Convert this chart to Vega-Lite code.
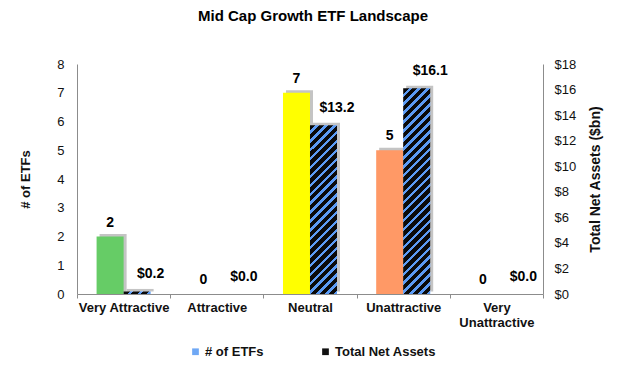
{
  "$schema": "https://vega.github.io/schema/vega-lite/v6.json",
  "width": 466,
  "height": 230,
  "autosize": "none",
  "padding": {"left": 77, "top": 64, "right": 87, "bottom": 74},
  "background": "white",
  "title": {"text": "Mid Cap Growth ETF Landscape", "fontSize": 15, "fontWeight": "bold", "font": "Liberation Sans", "anchor": "middle", "offset": 34, "dx": 3, "color": "#000"},
  "config": {
    "font": "Liberation Sans",
    "view": {"stroke": null},
    "axis": {"grid": false, "domainColor": "#8c8c8c", "labelColor": "#111", "titleColor": "#111", "labelFont": "Liberation Sans", "titleFont": "Liberation Sans"}
  },
  "data": {"values": [
    {"rating": "Very Attractive", "etfs": 2, "assets": 0.2},
    {"rating": "Attractive", "etfs": 0, "assets": 0.0},
    {"rating": "Neutral", "etfs": 7, "assets": 13.2},
    {"rating": "Unattractive", "etfs": 5, "assets": 16.1},
    {"rating": "Very Unattractive", "etfs": 0, "assets": 0.0}
  ]},
  "encoding": {
    "x": {"field": "rating", "type": "nominal",
      "sort": ["Very Attractive", "Attractive", "Neutral", "Unattractive", "Very Unattractive"],
      "scale": {"paddingInner": 0, "paddingOuter": 0},
      "axis": {"title": null, "labelAngle": 0, "tickBand": "extent", "ticks": true, "tickSize": 4, "tickColor": "#8c8c8c",
        "labelFontWeight": "bold", "labelFontSize": 13, "labelPadding": 3, "labelLineHeight": 15, "labelOverlap": false,
        "labelExpr": "datum.value == 'Very Unattractive' ? ['Very', 'Unattractive'] : datum.value"}}
  },
  "layer": [
    {
      "encoding": {"y": {"field": "etfs", "type": "quantitative", "scale": {"domain": [0, 8]},
        "axis": {"orient": "left", "values": [0, 1, 2, 3, 4, 5, 6, 7, 8], "ticks": false, "labelPadding": 13, "labelFontSize": 13,
          "title": "# of ETFs", "titleFontSize": 13, "titleFontWeight": "bold", "titlePadding": 24}}},
      "layer": [
        {"mark": {"type": "bar", "color": "#c4c4c4", "width": {"band": 0.29}, "xOffset": -10.5, "yOffset": -2.5}},
        {"mark": {"type": "bar", "width": {"band": 0.29}, "xOffset": -13.5},
         "encoding": {"fill": {"field": "rating", "type": "nominal", "legend": null,
           "scale": {"domain": ["Very Attractive", "Attractive", "Neutral", "Unattractive", "Very Unattractive"],
                     "range": ["#66CC66", "#cccccc", "#FFFF00", "#FF9966", "#cccccc"]}}}},
        {"mark": {"type": "text", "fontWeight": "bold", "fontSize": 14, "dx": -13.5, "dy": -14, "baseline": "middle", "color": "#000"},
         "encoding": {"text": {"field": "etfs", "type": "quantitative"}}}
      ]
    },
    {
      "encoding": {"y": {"field": "assets", "type": "quantitative", "scale": {"domain": [0, 18]},
        "axis": {"orient": "right", "values": [0, 2, 4, 6, 8, 10, 12, 14, 16, 18], "labelExpr": "'$' + datum.value", "ticks": false,
          "labelPadding": 11, "labelFontSize": 13, "title": "Total Net Assets ($bn)", "titleFontSize": 14, "titleFontWeight": "bold",
          "titleAngle": 270, "titleBaseline": "top", "titlePadding": 13}}},
      "layer": [
        {"mark": {"type": "bar", "color": "#c4c4c4", "width": {"band": 0.29}, "xOffset": 16.5, "yOffset": -2.5}},
        {"transform": [{"filter": "datum.rating == 'Very Attractive'"}],
         "mark": {"type": "bar", "width": {"band": 0.29}, "xOffset": 13.5,
           "fill": {"gradient": "linear", "x1": 0, "y1": 0, "x2": 1.085, "y2": 0.1028, "stops": [
             {"offset": 0, "color": "#0a0a0a"}, {"offset": 0.20667, "color": "#0a0a0a"}, {"offset": 0.20667, "color": "#5B9BF5"}, {"offset": 0.33333, "color": "#5B9BF5"},
             {"offset": 0.33333, "color": "#0a0a0a"}, {"offset": 0.54, "color": "#0a0a0a"}, {"offset": 0.54, "color": "#5B9BF5"}, {"offset": 0.66667, "color": "#5B9BF5"},
             {"offset": 0.66667, "color": "#0a0a0a"}, {"offset": 0.87333, "color": "#0a0a0a"}, {"offset": 0.87333, "color": "#5B9BF5"}, {"offset": 1, "color": "#5B9BF5"}
           ]}}},
        {"transform": [{"filter": "datum.rating == 'Neutral'"}],
         "mark": {"type": "bar", "width": {"band": 0.29}, "xOffset": 13.5,
           "fill": {"gradient": "linear", "x1": 0, "y1": 0, "x2": 0.1812, "y2": 1.131, "stops": [
             {"offset": 0, "color": "#0a0a0a"}, {"offset": 0.02818, "color": "#0a0a0a"}, {"offset": 0.02818, "color": "#5B9BF5"}, {"offset": 0.04545, "color": "#5B9BF5"},
             {"offset": 0.04545, "color": "#0a0a0a"}, {"offset": 0.07364, "color": "#0a0a0a"}, {"offset": 0.07364, "color": "#5B9BF5"}, {"offset": 0.09091, "color": "#5B9BF5"},
             {"offset": 0.09091, "color": "#0a0a0a"}, {"offset": 0.11909, "color": "#0a0a0a"}, {"offset": 0.11909, "color": "#5B9BF5"}, {"offset": 0.13636, "color": "#5B9BF5"},
             {"offset": 0.13636, "color": "#0a0a0a"}, {"offset": 0.16455, "color": "#0a0a0a"}, {"offset": 0.16455, "color": "#5B9BF5"}, {"offset": 0.18182, "color": "#5B9BF5"},
             {"offset": 0.18182, "color": "#0a0a0a"}, {"offset": 0.21, "color": "#0a0a0a"}, {"offset": 0.21, "color": "#5B9BF5"}, {"offset": 0.22727, "color": "#5B9BF5"},
             {"offset": 0.22727, "color": "#0a0a0a"}, {"offset": 0.25545, "color": "#0a0a0a"}, {"offset": 0.25545, "color": "#5B9BF5"}, {"offset": 0.27273, "color": "#5B9BF5"},
             {"offset": 0.27273, "color": "#0a0a0a"}, {"offset": 0.30091, "color": "#0a0a0a"}, {"offset": 0.30091, "color": "#5B9BF5"}, {"offset": 0.31818, "color": "#5B9BF5"},
             {"offset": 0.31818, "color": "#0a0a0a"}, {"offset": 0.34636, "color": "#0a0a0a"}, {"offset": 0.34636, "color": "#5B9BF5"}, {"offset": 0.36364, "color": "#5B9BF5"},
             {"offset": 0.36364, "color": "#0a0a0a"}, {"offset": 0.39182, "color": "#0a0a0a"}, {"offset": 0.39182, "color": "#5B9BF5"}, {"offset": 0.40909, "color": "#5B9BF5"},
             {"offset": 0.40909, "color": "#0a0a0a"}, {"offset": 0.43727, "color": "#0a0a0a"}, {"offset": 0.43727, "color": "#5B9BF5"}, {"offset": 0.45455, "color": "#5B9BF5"},
             {"offset": 0.45455, "color": "#0a0a0a"}, {"offset": 0.48273, "color": "#0a0a0a"}, {"offset": 0.48273, "color": "#5B9BF5"}, {"offset": 0.5, "color": "#5B9BF5"},
             {"offset": 0.5, "color": "#0a0a0a"}, {"offset": 0.52818, "color": "#0a0a0a"}, {"offset": 0.52818, "color": "#5B9BF5"}, {"offset": 0.54545, "color": "#5B9BF5"},
             {"offset": 0.54545, "color": "#0a0a0a"}, {"offset": 0.57364, "color": "#0a0a0a"}, {"offset": 0.57364, "color": "#5B9BF5"}, {"offset": 0.59091, "color": "#5B9BF5"},
             {"offset": 0.59091, "color": "#0a0a0a"}, {"offset": 0.61909, "color": "#0a0a0a"}, {"offset": 0.61909, "color": "#5B9BF5"}, {"offset": 0.63636, "color": "#5B9BF5"},
             {"offset": 0.63636, "color": "#0a0a0a"}, {"offset": 0.66455, "color": "#0a0a0a"}, {"offset": 0.66455, "color": "#5B9BF5"}, {"offset": 0.68182, "color": "#5B9BF5"},
             {"offset": 0.68182, "color": "#0a0a0a"}, {"offset": 0.71, "color": "#0a0a0a"}, {"offset": 0.71, "color": "#5B9BF5"}, {"offset": 0.72727, "color": "#5B9BF5"},
             {"offset": 0.72727, "color": "#0a0a0a"}, {"offset": 0.75545, "color": "#0a0a0a"}, {"offset": 0.75545, "color": "#5B9BF5"}, {"offset": 0.77273, "color": "#5B9BF5"},
             {"offset": 0.77273, "color": "#0a0a0a"}, {"offset": 0.80091, "color": "#0a0a0a"}, {"offset": 0.80091, "color": "#5B9BF5"}, {"offset": 0.81818, "color": "#5B9BF5"},
             {"offset": 0.81818, "color": "#0a0a0a"}, {"offset": 0.84636, "color": "#0a0a0a"}, {"offset": 0.84636, "color": "#5B9BF5"}, {"offset": 0.86364, "color": "#5B9BF5"},
             {"offset": 0.86364, "color": "#0a0a0a"}, {"offset": 0.89182, "color": "#0a0a0a"}, {"offset": 0.89182, "color": "#5B9BF5"}, {"offset": 0.90909, "color": "#5B9BF5"},
             {"offset": 0.90909, "color": "#0a0a0a"}, {"offset": 0.93727, "color": "#0a0a0a"}, {"offset": 0.93727, "color": "#5B9BF5"}, {"offset": 0.95455, "color": "#5B9BF5"},
             {"offset": 0.95455, "color": "#0a0a0a"}, {"offset": 0.98273, "color": "#0a0a0a"}, {"offset": 0.98273, "color": "#5B9BF5"}, {"offset": 1, "color": "#5B9BF5"}
           ]}}},
        {"transform": [{"filter": "datum.rating == 'Unattractive'"}],
         "mark": {"type": "bar", "width": {"band": 0.29}, "xOffset": 13.5,
           "fill": {"gradient": "linear", "x1": 0, "y1": 0, "x2": 0.146, "y2": 1.112, "stops": [
             {"offset": 0, "color": "#0a0a0a"}, {"offset": 0.02385, "color": "#0a0a0a"}, {"offset": 0.02385, "color": "#5B9BF5"}, {"offset": 0.03846, "color": "#5B9BF5"},
             {"offset": 0.03846, "color": "#0a0a0a"}, {"offset": 0.06231, "color": "#0a0a0a"}, {"offset": 0.06231, "color": "#5B9BF5"}, {"offset": 0.07692, "color": "#5B9BF5"},
             {"offset": 0.07692, "color": "#0a0a0a"}, {"offset": 0.10077, "color": "#0a0a0a"}, {"offset": 0.10077, "color": "#5B9BF5"}, {"offset": 0.11538, "color": "#5B9BF5"},
             {"offset": 0.11538, "color": "#0a0a0a"}, {"offset": 0.13923, "color": "#0a0a0a"}, {"offset": 0.13923, "color": "#5B9BF5"}, {"offset": 0.15385, "color": "#5B9BF5"},
             {"offset": 0.15385, "color": "#0a0a0a"}, {"offset": 0.17769, "color": "#0a0a0a"}, {"offset": 0.17769, "color": "#5B9BF5"}, {"offset": 0.19231, "color": "#5B9BF5"},
             {"offset": 0.19231, "color": "#0a0a0a"}, {"offset": 0.21615, "color": "#0a0a0a"}, {"offset": 0.21615, "color": "#5B9BF5"}, {"offset": 0.23077, "color": "#5B9BF5"},
             {"offset": 0.23077, "color": "#0a0a0a"}, {"offset": 0.25462, "color": "#0a0a0a"}, {"offset": 0.25462, "color": "#5B9BF5"}, {"offset": 0.26923, "color": "#5B9BF5"},
             {"offset": 0.26923, "color": "#0a0a0a"}, {"offset": 0.29308, "color": "#0a0a0a"}, {"offset": 0.29308, "color": "#5B9BF5"}, {"offset": 0.30769, "color": "#5B9BF5"},
             {"offset": 0.30769, "color": "#0a0a0a"}, {"offset": 0.33154, "color": "#0a0a0a"}, {"offset": 0.33154, "color": "#5B9BF5"}, {"offset": 0.34615, "color": "#5B9BF5"},
             {"offset": 0.34615, "color": "#0a0a0a"}, {"offset": 0.37, "color": "#0a0a0a"}, {"offset": 0.37, "color": "#5B9BF5"}, {"offset": 0.38462, "color": "#5B9BF5"},
             {"offset": 0.38462, "color": "#0a0a0a"}, {"offset": 0.40846, "color": "#0a0a0a"}, {"offset": 0.40846, "color": "#5B9BF5"}, {"offset": 0.42308, "color": "#5B9BF5"},
             {"offset": 0.42308, "color": "#0a0a0a"}, {"offset": 0.44692, "color": "#0a0a0a"}, {"offset": 0.44692, "color": "#5B9BF5"}, {"offset": 0.46154, "color": "#5B9BF5"},
             {"offset": 0.46154, "color": "#0a0a0a"}, {"offset": 0.48538, "color": "#0a0a0a"}, {"offset": 0.48538, "color": "#5B9BF5"}, {"offset": 0.5, "color": "#5B9BF5"},
             {"offset": 0.5, "color": "#0a0a0a"}, {"offset": 0.52385, "color": "#0a0a0a"}, {"offset": 0.52385, "color": "#5B9BF5"}, {"offset": 0.53846, "color": "#5B9BF5"},
             {"offset": 0.53846, "color": "#0a0a0a"}, {"offset": 0.56231, "color": "#0a0a0a"}, {"offset": 0.56231, "color": "#5B9BF5"}, {"offset": 0.57692, "color": "#5B9BF5"},
             {"offset": 0.57692, "color": "#0a0a0a"}, {"offset": 0.60077, "color": "#0a0a0a"}, {"offset": 0.60077, "color": "#5B9BF5"}, {"offset": 0.61538, "color": "#5B9BF5"},
             {"offset": 0.61538, "color": "#0a0a0a"}, {"offset": 0.63923, "color": "#0a0a0a"}, {"offset": 0.63923, "color": "#5B9BF5"}, {"offset": 0.65385, "color": "#5B9BF5"},
             {"offset": 0.65385, "color": "#0a0a0a"}, {"offset": 0.67769, "color": "#0a0a0a"}, {"offset": 0.67769, "color": "#5B9BF5"}, {"offset": 0.69231, "color": "#5B9BF5"},
             {"offset": 0.69231, "color": "#0a0a0a"}, {"offset": 0.71615, "color": "#0a0a0a"}, {"offset": 0.71615, "color": "#5B9BF5"}, {"offset": 0.73077, "color": "#5B9BF5"},
             {"offset": 0.73077, "color": "#0a0a0a"}, {"offset": 0.75462, "color": "#0a0a0a"}, {"offset": 0.75462, "color": "#5B9BF5"}, {"offset": 0.76923, "color": "#5B9BF5"},
             {"offset": 0.76923, "color": "#0a0a0a"}, {"offset": 0.79308, "color": "#0a0a0a"}, {"offset": 0.79308, "color": "#5B9BF5"}, {"offset": 0.80769, "color": "#5B9BF5"},
             {"offset": 0.80769, "color": "#0a0a0a"}, {"offset": 0.83154, "color": "#0a0a0a"}, {"offset": 0.83154, "color": "#5B9BF5"}, {"offset": 0.84615, "color": "#5B9BF5"},
             {"offset": 0.84615, "color": "#0a0a0a"}, {"offset": 0.87, "color": "#0a0a0a"}, {"offset": 0.87, "color": "#5B9BF5"}, {"offset": 0.88462, "color": "#5B9BF5"},
             {"offset": 0.88462, "color": "#0a0a0a"}, {"offset": 0.90846, "color": "#0a0a0a"}, {"offset": 0.90846, "color": "#5B9BF5"}, {"offset": 0.92308, "color": "#5B9BF5"},
             {"offset": 0.92308, "color": "#0a0a0a"}, {"offset": 0.94692, "color": "#0a0a0a"}, {"offset": 0.94692, "color": "#5B9BF5"}, {"offset": 0.96154, "color": "#5B9BF5"},
             {"offset": 0.96154, "color": "#0a0a0a"}, {"offset": 0.98538, "color": "#0a0a0a"}, {"offset": 0.98538, "color": "#5B9BF5"}, {"offset": 1, "color": "#5B9BF5"}
           ]}}},
        {"mark": {"type": "text", "fontWeight": "bold", "fontSize": 14, "dx": 27, "dy": -17, "baseline": "middle", "color": "#000"},
         "encoding": {"text": {"field": "assets", "type": "quantitative", "format": "$.1f"}}}
      ]
    },
    {
      "mark": {"type": "point", "filled": true, "opacity": 0, "shape": "square"},
      "encoding": {"color": {"datum": "# of ETFs", "type": "nominal",
        "scale": {"domain": ["# of ETFs", "Total Net Assets"], "range": ["#6FA8F5", "#111111"]},
        "legend": {"orient": "none", "legendX": 112, "legendY": 281, "padding": 0, "direction": "horizontal", "title": null, "symbolType": "square", "symbolSize": 45, "symbolOpacity": 1,
          "symbolStrokeWidth": 0, "labelFontSize": 13, "labelFontWeight": "bold", "labelFont": "Liberation Sans", "labelColor": "#111",
          "columnPadding": 55, "labelOffset": 3}}}
    },
    {
      "mark": {"type": "point", "filled": true, "opacity": 0, "shape": "square"},
      "encoding": {"color": {"datum": "Total Net Assets", "type": "nominal"}}
    }
  ],
  "resolve": {"scale": {"y": "independent"}}
}
